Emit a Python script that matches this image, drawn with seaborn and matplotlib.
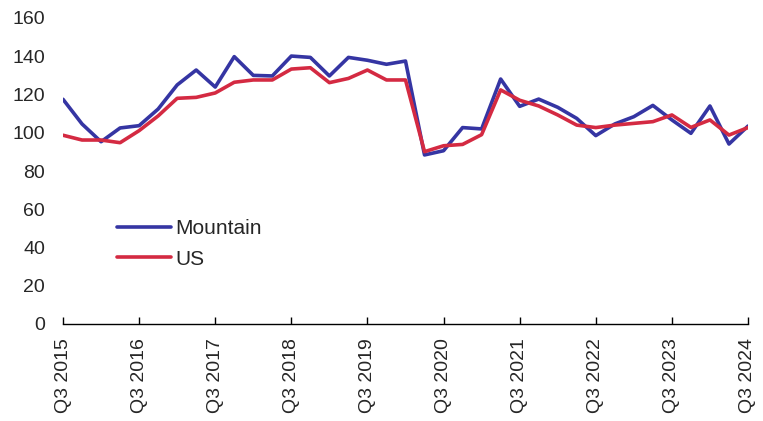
import seaborn as sns
import numpy as np
import matplotlib.pyplot as plt
import pandas as pd

sns.set_style("white")
plt.rcParams["font.family"] = ["Liberation Sans", "DejaVu Sans"]
plt.rcParams["font.size"] = 14

# quarterly index, Q3 2015 .. Q3 2024
quarters = pd.period_range("2015Q3", "2024Q3", freq="Q")
mountain = [117.5, 104.6, 95.3, 102.5, 103.7, 112.4, 125.0, 132.8, 123.9, 139.8,
            130.0, 129.7, 140.1, 139.4, 129.7, 139.4, 137.9, 135.8, 137.5, 88.4,
            90.6, 102.7, 102.0, 128.1, 113.8, 117.6, 113.3, 107.5, 98.5, 104.6,
            108.4, 114.3, 106.7, 99.7, 114.0, 94.1, 103.5]
us = [98.7, 96.2, 96.2, 94.8, 101.1, 108.8, 118.0, 118.5, 120.8, 126.4,
      127.6, 127.6, 133.3, 134.0, 126.2, 128.4, 132.8, 127.6, 127.6, 90.1,
      93.2, 93.9, 99.0, 122.4, 117.0, 114.0, 109.3, 104.0, 102.7, 104.0,
      104.9, 105.8, 109.3, 102.8, 106.7, 98.8, 102.7]
tick_labels = [f"Q3 {y}" for y in range(2015, 2025)]

df = pd.DataFrame({
    "idx": np.arange(len(quarters)),
    "Mountain": mountain,
    "US": us,
}).melt(id_vars="idx", var_name="serie", value_name="valor")

fig = plt.figure(figsize=(7.63, 4.21), dpi=100)
ax = fig.add_axes([63 / 763, 1 - 324 / 421, 685 / 763, 306 / 421])
sns.lineplot(
    data=df, x="idx", y="valor", hue="serie",
    palette={"Mountain": "#3535A3", "US": "#D42A42"},
    lw=2.6, ax=ax, legend=True,
)

ax.set_xlim(0, len(quarters) - 1)
ax.set_ylim(0, 160)
ax.set_yticks(range(0, 161, 20))
ax.set_xticks(range(0, len(quarters), 4))
ax.set_xticklabels(tick_labels, rotation=90)
ax.set_xlabel("")
ax.set_ylabel("")
for s in ["top", "right", "left"]:
    ax.spines[s].set_visible(False)
ax.spines["bottom"].set_color("black")
ax.spines["bottom"].set_linewidth(1)
ax.tick_params(axis="x", direction="in", length=5, width=1, color="black",
               bottom=True, pad=10, labelsize=14)
ax.tick_params(axis="y", length=0, pad=13, labelsize=14)

ax.legend(
    loc="center left", bbox_to_anchor=(117 / 763, 1 - 244 / 421),
    bbox_transform=fig.transFigure, frameon=False, fontsize=15,
    handlelength=2.6, handletextpad=0.2, labelspacing=0.55,
    borderpad=0, borderaxespad=0, title=None,
)

fig.savefig("out.png", dpi=100)
